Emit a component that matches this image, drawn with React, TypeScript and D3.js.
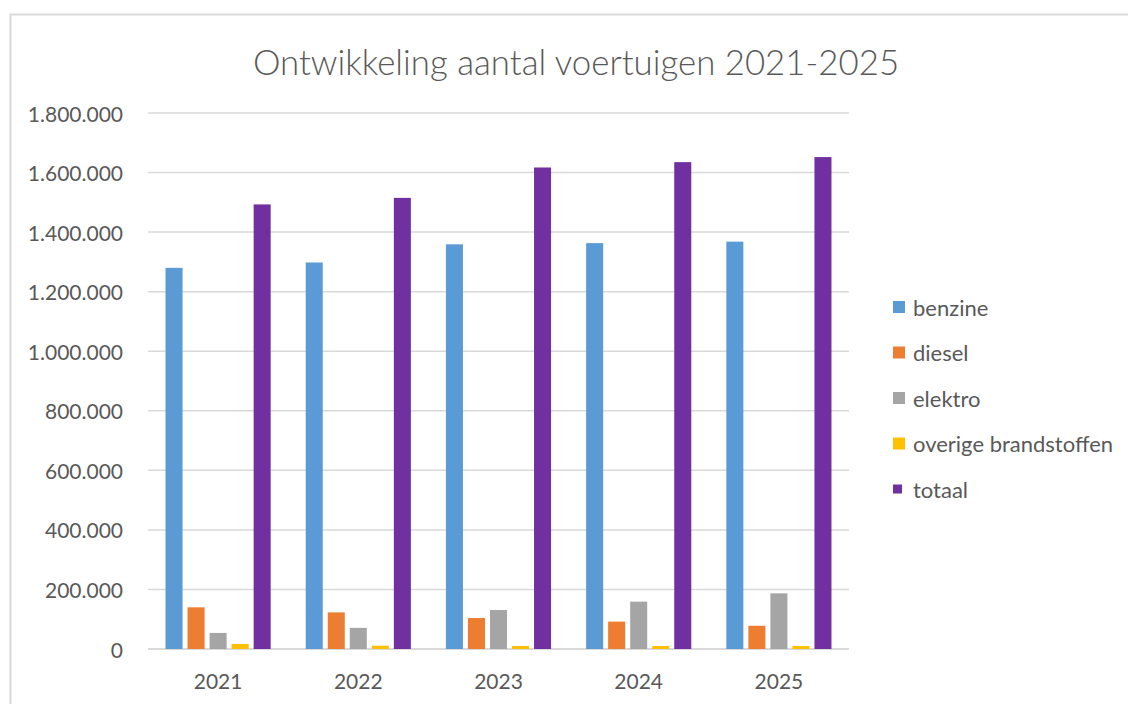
import { useEffect, useRef } from "react";
import * as d3 from "d3";

const WIDTH = 1128;
const HEIGHT = 704;

const YEARS = ["2021", "2022", "2023", "2024", "2025"];
const SERIES = ["benzine", "diesel", "elektro", "overige brandstoffen", "totaal"];
const COLORS = ["#5B9BD5", "#ED7D31", "#A5A5A5", "#FFC000", "#7030A0"];

const BENZINE = [1280000, 1298000, 1359000, 1363000, 1368000];
const DIESEL = [140000, 123000, 104000, 92000, 78000];
const ELEKTRO = [54000, 71000, 131000, 159000, 187000];
const OVERIGE = [17000, 11000, 10000, 10000, 10000];
const TOTAAL = [1493000, 1515000, 1617000, 1635000, 1652000];

const Y_TICKS = [0, 200000, 400000, 600000, 800000, 1000000, 1200000, 1400000, 1600000, 1800000];

const TITLE = "Ontwikkeling aantal voertuigen 2021-2025";
const FONT = "Lato, 'Open Sans', sans-serif";
const TEXT_COLOR = "#595959";
const GRID_COLOR = "#d9d9d9";

const PLOT = { left: 148, right: 849, top: 113, bottom: 649 };

const fmt = (v: number) =>
  v === 0 ? "0" : d3.format(",")(v).replace(/,/g, ".");

export default function App() {
  const svgRef = useRef<SVGSVGElement>(null);

  useEffect(() => {
    const svgElement = svgRef.current;
    if (!svgElement) return;

    const svg = d3.select(svgElement);
    svg.selectAll("*").remove();

    const values = [BENZINE, DIESEL, ELEKTRO, OVERIGE, TOTAAL];
    const rows = YEARS.map((year, i) => ({
      year,
      values: SERIES.map((name, s) => ({ name, value: values[s][i], color: COLORS[s] })),
    }));

    const x = d3.scaleBand().domain(YEARS).range([PLOT.left, PLOT.right]).padding(0);
    const groupWidth = x.bandwidth() * 0.75;
    const xInner = d3
      .scaleBand()
      .domain(SERIES)
      .range([0, groupWidth])
      .paddingInner(0.227)
      .paddingOuter(0);
    const y = d3.scaleLinear().domain([0, 1800000]).range([PLOT.bottom, PLOT.top]);

    // chart frame
    svg
      .append("rect")
      .attr("x", 10.5)
      .attr("y", 14.5)
      .attr("width", WIDTH + 20)
      .attr("height", HEIGHT + 20)
      .attr("fill", "#fff")
      .attr("stroke", GRID_COLOR)
      .attr("stroke-width", 2);

    svg
      .append("text")
      .attr("x", 576)
      .attr("y", 61)
      .attr("text-anchor", "middle")
      .attr("dominant-baseline", "central")
      .attr("font-family", FONT)
      .attr("font-weight", 300)
      .attr("font-size", 34.8)
      .attr("fill", TEXT_COLOR)
      .text(TITLE);

    // gridlines
    svg
      .append("g")
      .selectAll("line")
      .data(Y_TICKS)
      .join("line")
      .attr("x1", PLOT.left)
      .attr("x2", PLOT.right)
      .attr("y1", (d) => y(d))
      .attr("y2", (d) => y(d))
      .attr("stroke", GRID_COLOR)
      .attr("stroke-width", (d) => (d === 0 ? 2 : 1.5));

    // y tick labels
    svg
      .append("g")
      .selectAll("text")
      .data(Y_TICKS)
      .join("text")
      .attr("x", 123)
      .attr("y", (d) => y(d))
      .attr("text-anchor", "end")
      .attr("dominant-baseline", "central")
      .attr("font-family", FONT)
      .attr("font-size", 21)
      .attr("fill", TEXT_COLOR)
      .text((d) => fmt(d));

    // bars
    const groups = svg
      .append("g")
      .selectAll("g")
      .data(rows)
      .join("g")
      .attr(
        "transform",
        (d) => `translate(${(x(d.year) ?? 0) + (x.bandwidth() - groupWidth) / 2},0)`,
      );

    groups
      .selectAll("rect")
      .data((d) => d.values)
      .join("rect")
      .attr("x", (d) => xInner(d.name) ?? 0)
      .attr("width", xInner.bandwidth())
      .attr("y", (d) => y(d.value))
      .attr("height", (d) => y(0) - y(d.value))
      .attr("fill", (d) => d.color);

    // x labels
    svg
      .append("g")
      .selectAll("text")
      .data(YEARS)
      .join("text")
      .attr("x", (d) => (x(d) ?? 0) + x.bandwidth() / 2)
      .attr("y", 680)
      .attr("text-anchor", "middle")
      .attr("dominant-baseline", "central")
      .attr("font-family", FONT)
      .attr("font-size", 21)
      .attr("fill", TEXT_COLOR)
      .text((d) => d);

    // legend
    const legendY = d3.scalePoint().domain(SERIES).range([307, 489]);
    const legend = svg
      .append("g")
      .selectAll("g")
      .data(SERIES)
      .join("g")
      .attr("transform", (d) => `translate(893,${legendY(d)})`);

    legend
      .append("rect")
      .attr("x", 0)
      .attr("y", (d) => (d === "totaal" ? -4.5 : -6))
      .attr("width", (d) => (d === "totaal" ? 9 : 12))
      .attr("height", (d) => (d === "totaal" ? 9 : 12))
      .attr("fill", (_, i) => COLORS[i]);

    legend
      .append("text")
      .attr("x", 20)
      .attr("y", 0)
      .attr("dominant-baseline", "central")
      .attr("font-family", FONT)
      .attr("font-size", 22)
      .attr("fill", TEXT_COLOR)
      .text((d) => d);
  }, []);

  return (
    <svg
      ref={svgRef}
      width={WIDTH}
      height={HEIGHT}
      style={{ position: "absolute", left: 0, top: 0, background: "#fff" }}
    />
  );
}
